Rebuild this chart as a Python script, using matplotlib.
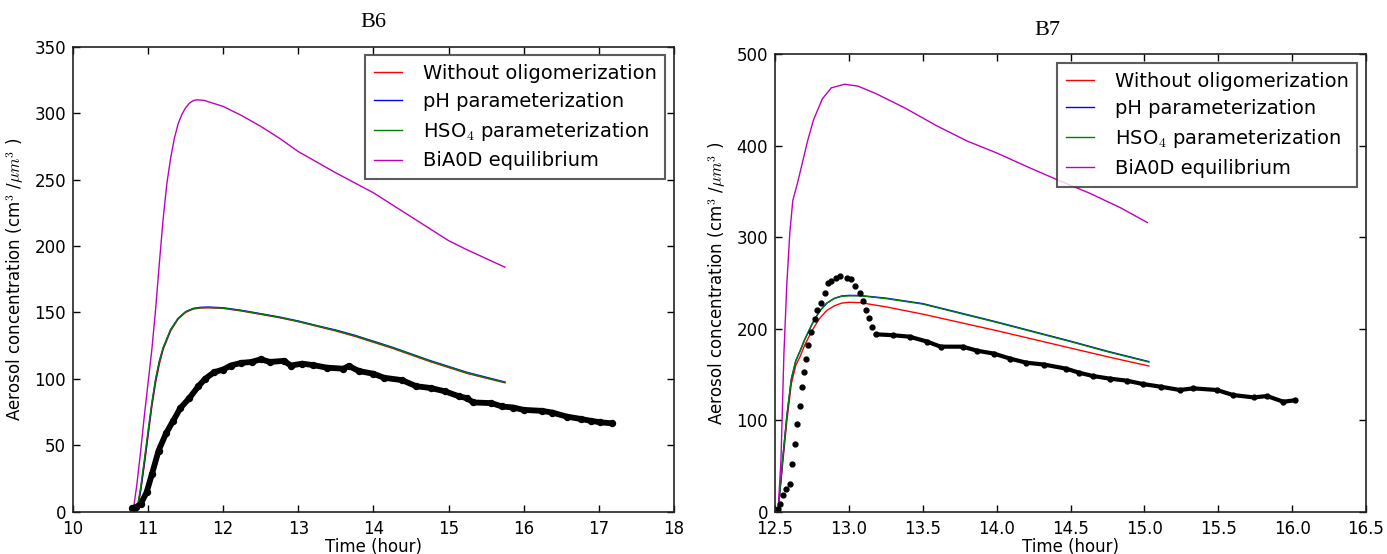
import numpy as np
import matplotlib
matplotlib.use('Agg')
import matplotlib.pyplot as plt

plt.rcParams['font.family'] = ['DejaVu Sans']
plt.rcParams['mathtext.fontset'] = 'cm'

# ---- B6 data ----
b6_t_model = [10.80, 10.85, 10.90, 10.95, 11.00, 11.05, 11.10, 11.15, 11.20, 11.30,
              11.40, 11.50, 11.60, 11.70, 11.80, 12.00, 12.25, 12.50, 12.75, 13.00,
              13.25, 13.50, 13.75, 14.00, 14.25, 14.50, 14.75, 15.00, 15.25, 15.50, 15.75]
b6_red = [0, 0, 15, 35, 57, 79, 97, 111, 122, 136,
          145, 150, 152.5, 153.3, 153.5, 153, 151, 148.5, 146, 143,
          139.5, 136, 132, 127.5, 123, 118, 113, 108.5, 104, 100.5, 97]
b6_blue = [0, 0, 16, 37, 59, 81, 99, 113, 123, 137,
           145.5, 150.5, 153, 153.8, 154, 153.5, 151.5, 149, 146.5, 143.5,
           140, 136.7, 132.8, 128.3, 123.8, 118.8, 113.8, 109.3, 104.8, 101.2, 97.6]
b6_green = [0, 1, 18, 39, 61, 82, 100, 113.5, 123.5, 137,
            145.5, 150.5, 152.8, 153.5, 153.7, 153.2, 151.2, 148.8, 146.2, 143.2,
            139.8, 136.3, 132.4, 127.9, 123.4, 118.4, 113.4, 108.9, 104.4, 100.8, 97.3]
b6_t_bia = [10.80, 10.85, 10.90, 10.95, 11.00, 11.05, 11.10, 11.15, 11.20, 11.25,
            11.30, 11.35, 11.40, 11.45, 11.50, 11.55, 11.60, 11.65, 11.75, 12.00,
            12.25, 12.50, 12.75, 13.00, 13.25, 13.50, 13.75, 14.00, 14.25, 14.50,
            14.75, 15.00, 15.25, 15.50, 15.75]
b6_bia = [0, 20, 45, 72, 97, 122, 152, 187, 220, 247,
          266, 281, 292, 299, 304, 307.5, 309.3, 310, 309.5, 305,
          298, 290, 281, 271, 263, 255, 247.5, 240, 231, 222,
          213, 204, 197, 190.5, 184]
b6_t_obs = [10.79, 10.84, 10.90, 10.98, 11.05, 11.14, 11.24, 11.33, 11.43, 11.55,
            11.67, 11.76, 11.88, 12.00, 12.10, 12.24, 12.38, 12.50, 12.62, 12.81,
            12.90, 13.05, 13.19, 13.38, 13.60, 13.67, 13.81, 14.00, 14.14, 14.38,
            14.57, 14.76, 14.95, 15.14, 15.24, 15.33, 15.57, 15.71, 15.86, 16.00,
            16.24, 16.38, 16.57, 16.76, 16.90, 17.02, 17.17]
b6_obs = [2.5, 3.5, 5.6, 14.5, 28, 46, 59, 68, 78, 85.5,
          94.4, 100, 105, 107, 110, 112, 112.7, 114.7, 112.7, 113.5,
          110, 111.4, 110.4, 108.4, 107.6, 109.6, 105.8, 103.8, 100.8, 99,
          94.4, 93.1, 90.6, 86.8, 85.5, 82.2, 81.7, 79.2, 78.4, 76.6,
          75.9, 74.6, 71.6, 69.8, 68.3, 67.3, 66.5]

# ---- B7 data ----
b7_t_model = [12.52, 12.55, 12.58, 12.61, 12.64, 12.67, 12.70, 12.75, 12.80, 12.85,
              12.90, 12.95, 13.00, 13.08, 13.25, 13.50, 13.75, 14.00, 14.25, 14.50,
              14.75, 15.03]
b7_red = [0, 50, 100, 140, 160, 170, 182, 198, 211, 220,
          225, 228, 229, 228.5, 224, 216, 207, 198, 188.5, 179,
          169.5, 159.4]
b7_blue = [0, 55, 105, 145, 165, 176, 188, 205, 219, 228,
           233.2, 235.8, 236.5, 236.3, 233.5, 227.5, 217.5, 207.5, 197, 186.5,
           175.5, 164.2]
b7_green = [0, 55, 105, 145, 165, 176, 188, 205, 219, 228,
            233, 235.5, 236, 236, 233, 227, 217, 207, 196.5, 186,
            175, 163.7]
b7_t_bia = [12.52, 12.54, 12.56, 12.58, 12.60, 12.62, 12.65, 12.68, 12.72, 12.76,
            12.82, 12.88, 12.97, 13.06, 13.18, 13.38, 13.59, 13.80, 14.00, 14.22,
            14.42, 14.63, 14.84, 15.02]
b7_bia = [0, 57, 173, 250, 305, 340, 358, 378, 405, 428,
          451, 463, 467, 465, 457, 441, 422, 405, 392, 376,
          362, 348, 332, 316]
b7_t_obs = [12.518, 12.533, 12.553, 12.574, 12.598, 12.613, 12.634, 12.648, 12.666, 12.681,
            12.696, 12.711, 12.726, 12.746, 12.767, 12.782, 12.812, 12.835, 12.856, 12.880,
            12.910, 12.939, 12.984, 13.014, 13.043, 13.073, 13.094, 13.118, 13.139, 13.157,
            13.18, 13.30, 13.41, 13.53, 13.62, 13.77, 13.87, 13.98, 14.09, 14.20,
            14.32, 14.47, 14.56, 14.65, 14.77, 14.88, 14.99, 15.11, 15.24, 15.33,
            15.49, 15.60, 15.74, 15.83, 15.94, 16.02]
b7_obs = [3, 9, 19, 25, 31, 52, 74, 96, 116, 137,
          153, 167, 182, 197, 211, 220, 228, 239, 250, 252,
          256, 258, 256, 254, 247, 239, 230, 221, 212, 202,
          194, 193, 191.4, 186, 180.5, 180.5, 176, 173, 167.5, 163,
          161, 156.5, 152, 148.5, 145.5, 143.4, 139.7, 136.8, 133.2, 135,
          133.2, 127.7, 125.1, 126.6, 120.4, 122]

labels = ['Without oligomerization', 'pH parameterization',
          r'HSO$_4$ parameterization', 'BiA0D equilibrium']


def style_axes(ax, title, title_x):
    ax.set_title(title, family='Liberation Serif', fontsize=16, pad=14, x=title_x)
    ax.set_xlabel('Time (hour)', fontsize=12, labelpad=0)
    ax.set_ylabel(r'Aerosol concentration (cm$^3$ /$\mu m^3$ )', fontsize=12, labelpad=6)
    ax.tick_params(direction='in', top=True, right=True, length=5, width=1,
                   labelsize=12)
    ax.tick_params(axis='x', pad=6)
    ax.tick_params(axis='y', pad=5)
    for s in ax.spines.values():
        s.set_linewidth(1.2)
        s.set_color('#222222')
    leg = ax.legend(loc='upper right', fontsize=14, frameon=True, fancybox=False,
                    handlelength=1.45, handletextpad=1.05, labelspacing=0.45,
                    borderpad=0.45, borderaxespad=0.45)
    leg.get_frame().set_edgecolor('#333333')
    leg.get_frame().set_linewidth(1.5)


fig = plt.figure(figsize=(13.87, 5.54), dpi=100)

# B6 panel
ax1 = fig.add_axes([0.0526, 0.0764, 0.4333, 0.8394])
ax1.plot(b6_t_model, b6_red, color='r', lw=1.0, label=labels[0])
ax1.plot(b6_t_model, b6_blue, color='b', lw=1.0, label=labels[1])
ax1.plot(b6_t_model, b6_green, color='g', lw=1.0, label=labels[2])
ax1.plot(b6_t_bia, b6_bia, color='m', lw=1.0, label=labels[3])
ax1.plot(b6_t_obs, b6_obs, 'o-', color='k', lw=4.2, ms=4.3, solid_capstyle='round',
         solid_joinstyle='round')
ax1.set_xlim(10, 18)
ax1.set_ylim(0, 350)
style_axes(ax1, 'B6', 0.5)

# B7 panel
ax2 = fig.add_axes([0.5588, 0.0758, 0.4261, 0.8267])
ax2.plot(b7_t_model, b7_red, color='r', lw=1.0, label=labels[0])
ax2.plot(b7_t_model, b7_blue, color='b', lw=1.0, label=labels[1])
ax2.plot(b7_t_model, b7_green, color='g', lw=1.0, label=labels[2])
ax2.plot(b7_t_bia, b7_bia, color='m', lw=1.0, label=labels[3])
t7 = np.array(b7_t_obs)
v7 = np.array(b7_obs)
dense = t7 >= 13.17
ax2.plot(t7[dense], v7[dense], '-', color='k', lw=3.0, solid_capstyle='round',
         solid_joinstyle='round')
ax2.plot(t7, v7, 'o', color='k', ms=3.5)
ax2.set_xlim(12.5, 16.5)
ax2.set_ylim(0, 500)
ax2.set_xticks(np.arange(12.5, 16.51, 0.5))
ax2.xaxis.set_major_formatter(matplotlib.ticker.FormatStrFormatter('%.1f'))
style_axes(ax2, 'B7', 0.46)

fig.savefig('out.png', dpi=100)
